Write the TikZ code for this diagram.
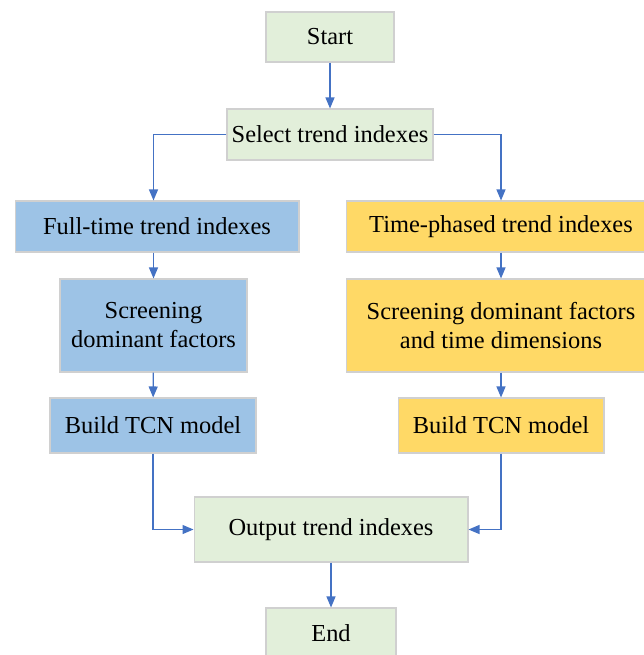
\documentclass[tikz,border=0pt]{standalone}
\usepackage{fontspec}
\setmainfont{LiberationSerif-Regular.ttf}
\usepackage{tikz}
\usetikzlibrary{arrows.meta, positioning, calc}
\definecolor{cGreen}{HTML}{E2EFDA}
\definecolor{cBlue}{HTML}{9DC3E6}
\definecolor{cGold}{HTML}{FFD966}
\definecolor{cLine}{HTML}{4472C4}
\definecolor{cEdge}{HTML}{D0D0D0}
\tikzset{
	termbox/.style ={rectangle, draw=cEdge, line width=0.6pt, fill=cGreen, align=center, inner sep=0pt},
	fullbox/.style ={rectangle, draw=cEdge, line width=0.6pt, fill=cBlue, align=center, inner sep=0pt},
	phasebox/.style={rectangle, draw=cEdge, line width=0.6pt, fill=cGold, align=center, inner sep=0pt},
	flow/.style    ={-{Triangle[length=2.2mm, width=1.8mm]}, draw=cLine, line width=0.7pt},
}
\begin{document}
\begin{tikzpicture}[x=0.02cm, y=-0.02cm, font=\fontsize{13.9}{16.5}\selectfont]
	\useasboundingbox (0,0) rectangle (644,655);
	% start and selection
	\node[termbox, minimum width=2.56cm, minimum height=1.0cm] (start) at (330,37) {Start};
	\node[termbox, minimum width=4.12cm, minimum height=1.02cm] (select) at (330,134.5) {Select trend indexes};
	% full-time branch
	\node[fullbox, minimum width=5.68cm, minimum height=1.02cm] (fullt) at (157,226.5) {Full-time trend indexes};
	\node[fullbox, minimum width=3.74cm, minimum height=1.86cm] (screenl) at (153.5,325.5) {Screening\\dominant factors};
	\node[fullbox, minimum width=4.12cm, minimum height=1.1cm] (buildl) at (153,425.5) {Build TCN model};
	% time-phased branch
	\node[phasebox, minimum width=6.2cm, minimum height=1.02cm] (phased) at (501,226.5) {Time-phased trend indexes};
	\node[phasebox, minimum width=6.2cm, minimum height=1.86cm] (screenr) at (501,325.5) {Screening dominant factors\\and time dimensions};
	\node[phasebox, minimum width=4.12cm, minimum height=1.1cm] (buildr) at (501,425.5) {Build TCN model};
	% output and end
	\node[termbox, minimum width=5.48cm, minimum height=1.3cm] (output) at (331,529.5) {Output trend indexes};
	\node[termbox, minimum width=2.6cm, minimum height=1.0cm] (end) at (331,633) {End};

	\draw[flow] (start) -- (select);
	\draw[flow] (select.west) -| (fullt.north -| screenl.north);
	\draw[flow] (select.east) -| (phased.north);
	\draw[flow] (fullt.south -| screenl.north) -- (screenl);
	\draw[flow] (screenl) -- (buildl);
	\draw[flow] (phased) -- (screenr);
	\draw[flow] (screenr) -- (buildr);
	\draw[flow] (buildl.south) |- (output.west);
	\draw[flow] (buildr.south) |- (output.east);
	\draw[flow] (output) -- (end);
\end{tikzpicture}
\end{document}
